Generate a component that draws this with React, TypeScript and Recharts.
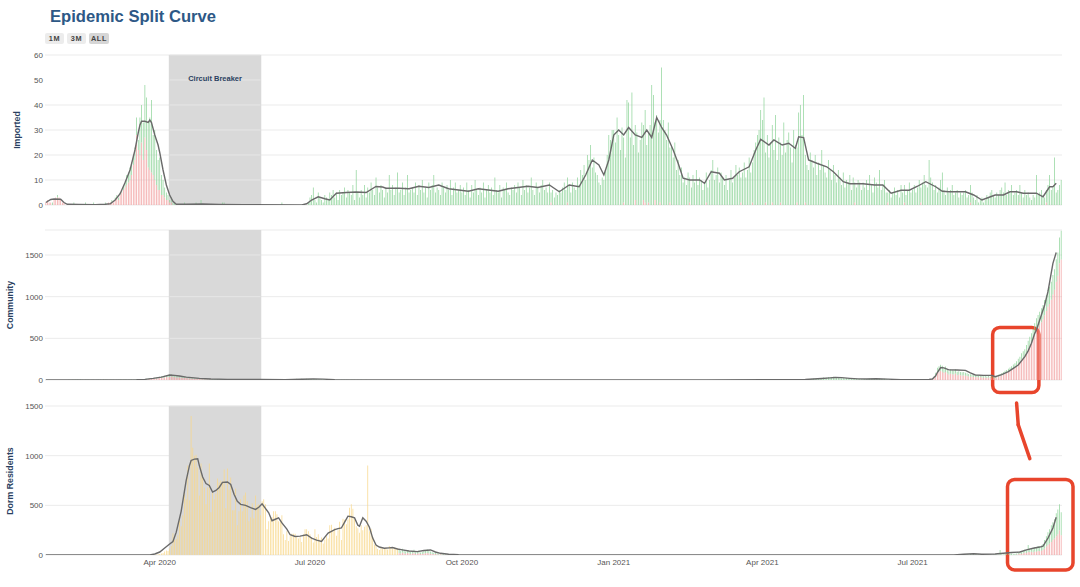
import React from 'react';
import { ComposedChart, Bar, Line, XAxis, YAxis, CartesianGrid, ReferenceArea, ReferenceLine } from 'recharts';

// ---------- time span & axes ----------
const FIRST_DAY = '2020-01-23';
const LAST_DAY = '2021-09-29';
const xTickDates = ['2020-04-01', '2020-07-01', '2020-10-01', '2021-01-01', '2021-04-01', '2021-07-01'];
const xTickLabels = ['Apr 2020', 'Jul 2020', 'Oct 2020', 'Jan 2021', 'Apr 2021', 'Jul 2021'];
const importedTicks = [0, 10, 20, 30, 40, 50, 60];
const communityTicks = [0, 500, 1000, 1500];
const dormTicks = [0, 500, 1000, 1500];
const circuitBreakerStart = '2020-04-07';
const circuitBreakerEnd = '2020-06-01';
const circuitBreakerText = 'Circuit Breaker';
const rangeButtons = ['1M', '3M', 'ALL'];
const titleText = 'Epidemic Split Curve';

// ---------- Imported ----------
// daily values from 2020-01-23
const importedRedEarly = [
  1, 2, 1, 1, 0, 2, 3, 3, 3, 2, 1, 1, 0,
  0, 0, 0, 0, 0, 0, 0, 0, 0, 0, 0, 0, 0, 0, 0, 0, 0, 0, 0, 0, 0, 0, 0,
  0, 0, 1, 1, 1, 1, 2, 3, 2, 4, 5, 6, 7, 8, 9, 10, 12, 16, 18, 28, 22, 20, 25, 18, 27,
  22, 15, 14, 13, 12, 10, 8, 6, 6, 4, 4, 3, 2, 2, 1, 1, 0, 0, 0, 0,
];
const importedGreenEarly = [
  0, 0, 0, 0, 1, 0, 0, 1, 0, 0, 0, 0, 0,
  0, 0, 0, 0, 1, 0, 0, 0, 0, 0, 0, 1, 0, 0, 0, 0, 1, 0, 0, 0, 0, 0, 0,
  1, 0, 0, 0, 1, 0, 1, 1, 1, 1, 1, 2, 2, 4, 4, 5, 5, 4, 5, 7, 4, 15, 15, 15, 21,
  21, 18, 21, 29, 16, 20, 14, 12, 13, 8, 6, 4, 3, 2, 1, 2, 1, 1, 0, 0,
];
// from 2020-04-13
const importedGreenAprJun20 = [
  0, 0, 0, 1, 0, 0, 0, 0, 0, 0, 1, 0, 0, 2, 0, 0, 0, 0, 0, 0, 0, 0, 0, 0, 0, 0, 1, 1, 0, 0,
  0, 0, 0, 0, 0, 0, 0, 0, 0, 0, 0, 0, 0, 0, 0, 0, 0, 0, 0, 0, 0, 0, 0, 0, 0, 0, 0, 0, 0, 0,
  0, 0, 1,
];
// from 2020-06-27
const importedGreenLateJun20 = [0, 0, 0, 1, 2];
// from 2020-07-01
const importedGreenQ3_2020 = [
  3, 4, 7, 2, 1, 5, 3, 2, 1, 4, 3, 2, 5, 4, 6, 3, 5, 2, 6, 4, 5, 7, 3, 6, 5, 4, 8, 2, 14, 5, 3,
  6, 4, 8, 3, 7, 5, 9, 6, 4, 11, 7, 5, 8, 6, 3, 7, 5, 12, 6, 8, 4, 7, 13, 5, 6, 9, 4, 7, 12, 5, 6,
  7, 5, 9, 4, 8, 6, 10, 5, 7, 3, 9, 6, 8, 12, 5, 7, 6, 4, 9, 7, 5, 8, 6, 10, 4, 7, 9, 5, 6, 8,
];
// from 2020-10-01
const importedGreenQ4_2020 = [
  5, 7, 4, 9, 6, 3, 8, 5, 10, 6, 4, 7, 5, 9, 3, 6, 8, 5, 7, 4, 11, 6, 5, 8, 3, 7, 6, 9, 5, 4, 7,
  6, 8, 5, 9, 7, 4, 10, 6, 8, 5, 7, 11, 6, 4, 9, 7, 5, 8, 10, 6, 7, 5, 9, 4, 6, 3, 5, 4, 6, 5,
  7, 9, 6, 10, 8, 5, 9, 7, 6, 11, 8, 14, 12, 16, 10, 20, 18, 24, 15, 19, 13, 12, 9, 8, 11, 10, 14, 20, 28, 26, 30,
];
// from 2021-01-01
const importedGreenQ1_2021 = [
  30, 25, 35, 28, 22, 31, 26, 19, 42, 41, 27, 45, 24, 30, 29, 21, 26, 33, 30, 37, 24, 28, 32, 48, 44, 31, 36, 29, 33, 55, 34,
  30, 26, 33, 22, 24, 19, 25, 14, 18, 12, 15, 9, 11, 8, 13, 10, 7, 12, 9, 14, 8, 11, 10, 6, 9, 12, 7, 10,
  14, 18, 10, 12, 15, 9, 13, 11, 8, 12, 6, 10, 14, 9, 11, 16, 12, 15, 10, 13, 17, 11, 14, 19, 13, 16, 22, 25, 28, 30, 38,
];
// from 2021-04-01
const importedGreenQ2_2021 = [
  34, 43, 20, 28, 19, 25, 31, 22, 36, 18, 27, 24, 20, 33, 21, 26, 29, 23, 17, 30, 24, 22, 37, 40, 28, 44, 19, 16, 14, 21,
  18, 15, 20, 12, 17, 14, 22, 16, 13, 11, 18, 14, 10, 16, 12, 9, 14, 11, 8, 13, 7, 10, 9, 12, 6, 11, 8, 7, 10, 9, 6,
  9, 7, 10, 6, 12, 8, 5, 11, 9, 7, 14, 6, 8, 10, 5, 4, 6, 3, 5, 7, 4, 6, 3, 8, 5, 7, 4, 6, 9, 5,
];
// from 2021-07-01
const importedGreenQ3_2021 = [
  6, 8, 5, 7, 10, 6, 9, 12, 8, 7, 18, 11, 9, 6, 8, 5, 7, 10, 13, 6, 4, 7, 5, 6, 8, 4, 5, 6, 3, 5, 4,
  5, 6, 3, 4, 7, 5, 3, 2, 4, 1, 2, 3, 1, 2, 4, 3, 5, 6, 4, 3, 5, 4, 6, 7, 5, 9, 4, 6, 5, 8, 4,
  5, 6, 4, 7, 5, 3, 6, 4, 5, 3, 2, 4, 3, 12, 4, 5, 6, 4, 3, 5, 8, 12, 6, 7, 19, 5, 6, 8, 10,
];
// scattered small values: [days after 2020-01-23, value]
const importedRedLate = [
  [306, 1], [316, 1], [350, 1], [357, 2], [362, 2], [363, 1], [365, 1], [369, 2], [372, 1], [378, 1], [390, 1],
  [400, 1], [421, 1], [428, 1], [436, 1], [440, 1], [445, 1], [455, 1], [460, 1], [490, 1], [510, 1], [520, 1],
  [530, 1], [560, 1], [590, 1], [606, 1],
];
// 7-day average: [days after 2020-01-23, value]
const importedAvg = [
  [0, 1], [3, 2.2], [5, 2.4], [9, 2.3], [11, 1], [13, 0.3], [20, 0.2], [30, 0.1], [36, 0.3], [39, 0.5], [42, 2], [45, 4.5],
  [48, 9], [51, 14], [54, 22], [56, 29], [57, 32], [58, 33.5], [60, 33.5], [62, 33], [63, 34], [64, 33], [66, 28], [68, 24],
  [69, 21], [71, 14], [73, 8], [75, 4], [77, 1.5], [79, 0.3], [85, 0.3], [95, 0.4], [105, 0.2], [120, 0.1], [155, 0],
  [158, 0.5], [161, 2], [165, 3.3], [169, 2.5], [172, 2], [176, 4.7], [182, 5], [188, 5.2], [194, 5], [200, 7.4], [204, 7.2],
  [206, 6.7], [214, 6.7], [220, 6.5], [226, 7.5], [232, 7], [238, 8], [244, 6.5], [250, 6], [256, 5.5], [262, 6.5], [268, 6],
  [274, 5.5], [280, 6.5], [286, 7], [292, 7.5], [298, 7], [305, 8], [311, 5.3], [317, 8], [323, 7.3], [327, 12], [331, 18],
  [335, 16], [338, 12], [341, 18], [344, 28], [347, 30], [350, 28], [353, 31], [357, 28], [361, 27], [364, 30], [367, 27],
  [370, 35], [373, 31], [376, 28], [380, 22], [383, 16.7], [386, 10.7], [390, 10], [396, 10], [399, 8.7], [403, 13.3],
  [408, 12.7], [411, 10], [416, 10.7], [420, 13.3], [426, 15.3], [430, 22], [433, 26.3], [438, 24], [441, 26], [446, 24],
  [450, 24.7], [454, 22.7], [456, 27.3], [459, 27], [462, 18], [467, 16.7], [473, 15.3], [477, 13.3], [483, 9.3], [487, 8.5],
  [495, 8.5], [502, 8], [507, 8], [512, 4.7], [518, 5.9], [523, 5.9], [528, 7.5], [533, 9.3], [539, 7.3], [543, 5.5],
  [547, 5.3], [552, 5.3], [557, 5.3], [562, 4], [567, 2], [571, 3], [575, 4], [580, 4], [584, 5.3], [588, 5.3], [592, 4.7],
  [596, 4.7], [600, 4.7], [604, 3.3], [608, 7.3], [610, 7.3], [612, 8.7],
];

// ---------- Community ----------
// from 2020-02-04
const communityGreenFeb20 = [1, 0, 2, 1, 3, 4, 2, 6, 3, 5, 2, 1, 3, 2, 4, 1, 2, 3, 1, 4, 2, 3, 1, 5, 2, 3, 1, 2];
// from 2020-03-03
const communityGreenMar20 = [2, 3, 1, 4, 2, 5, 3, 2, 6, 4, 3, 5, 7, 4, 6, 8, 5, 9, 7, 10, 12];
// from 2020-03-24
const communityRedMarMay20 = [
  8, 10, 12, 11, 15, 17, 18, 21, 24, 27, 23, 31, 35, 33, 37, 41, 36, 33, 30, 31,
  29, 27, 24, 23, 25, 21, 18, 17, 15, 13, 14, 12, 11, 10, 9, 8, 7, 8, 7, 6,
];
// from 2020-03-24
const communityGreenMarAug20 = [
  6, 6, 8, 7, 10, 11, 12, 14, 16, 18, 15, 21, 23, 22, 25, 27, 24, 22, 20, 21,
  19, 18, 16, 15, 17, 14, 12, 11, 10, 9, 10, 8, 7, 6, 6, 6, 5, 5, 4, 4,
  9, 10, 8, 11, 7, 9, 8, 10, 6, 8, 7, 9, 5, 8, 6, 7, 9, 5, 6, 8, 4, 7, 6, 5, 8, 4, 6, 5, 7, 6,
  5, 4, 6, 3, 7, 5, 4, 6, 3, 5, 7, 4, 6, 8, 5, 9, 7, 10, 12, 8, 11, 14, 10, 13, 15, 12, 9, 14, 11, 13,
  10, 8, 12, 9, 7, 10, 6, 8, 5, 7, 4, 6, 3, 5, 4, 3, 5, 2, 4, 3,
  3, 2, 4, 1, 3, 2, 2, 1, 3, 1, 2, 1, 1, 2, 0, 1, 1, 0, 1, 1,
];
// from 2021-04-08
const communityGreen2021 = [
  2, 1, 3, 2, 4, 1, 2, 3, 5, 2, 4, 3, 2, 5, 6, 4, 3, 7, 5, 8,
  10, 12, 9, 15, 18, 14, 20, 24, 17, 25, 30, 22, 28, 35, 26, 32, 38, 27, 30, 24,
  28, 22, 25, 19, 24, 18, 15, 20, 14, 12, 16, 11, 13, 10, 9, 12, 8, 11, 14, 16,
  18, 15, 20, 13, 17, 12, 10, 14, 8, 9, 6, 7, 5, 8, 4, 6, 5, 3, 5,
  6, 8, 4, 5, 7, 3, 5, 6, 4, 8, 3, 4, 6, 5, 9, 12, 10,
  7, 16, 33, 58, 65, 72, 70, 55, 67, 52, 43, 50, 48, 46, 52, 40, 42, 40, 38,
  39, 36, 33, 29, 28, 26, 24, 22, 25, 20, 23, 21, 18, 19, 17, 20, 15, 18, 16, 14,
  18, 22, 24, 29, 31, 34, 36, 39, 42, 45, 49, 50, 55, 61, 66, 74, 77, 80, 90, 98,
  108, 114, 122, 134, 144, 152, 160, 166, 172, 182, 192, 202, 208, 218, 234, 248, 270, 280, 310, 345,
];
// from 2021-07-13
const communityRed2021 = [
  12, 26, 55, 90, 100, 110, 100, 85, 95, 78, 62, 75, 70, 66, 78, 58, 62, 56, 54,
  56, 52, 47, 43, 40, 38, 36, 33, 37, 30, 35, 31, 27, 29, 25, 30, 23, 26, 24, 22,
  30, 40, 46, 56, 64, 76, 84, 96, 108, 120, 136, 150, 170, 194, 214, 246, 268, 290, 330, 372,
  412, 446, 488, 546, 596, 628, 660, 694, 728, 778, 828, 878, 912, 962, 1026, 1082, 1180, 1250, 1400, 1445,
];
const communityAvg = [
  [0, 0], [30, 1], [45, 2], [55, 4], [60, 8], [65, 20], [70, 35], [75, 60], [78, 55], [81, 48], [85, 35], [90, 25], [93, 20],
  [100, 12], [110, 8], [130, 7], [145, 5], [155, 9], [162, 12], [168, 10], [175, 5], [190, 2], [220, 1], [300, 0], [400, 1],
  [440, 3], [460, 6], [465, 12], [470, 18], [475, 25], [478, 30], [482, 28], [487, 20], [492, 14], [497, 12], [503, 15],
  [510, 10], [518, 5], [525, 5], [535, 7], [537, 12], [539, 50], [540, 90], [542, 150], [544, 145], [547, 122], [552, 120],
  [557, 115], [560, 85], [563, 60], [568, 55], [573, 55], [575, 40], [579, 65], [583, 100], [586, 140], [589, 180], [593, 280],
  [595, 350], [597, 440], [599, 560], [600, 600], [603, 780], [605, 900], [607, 1060], [610, 1400], [612, 1530],
];

// ---------- Dorm residents ----------
// from 2020-03-29
const dormYellow2020 = [
  2, 4, 8, 10, 15, 20, 35, 45, 40, 65,
  90, 220, 150, 160, 200, 350, 290, 400, 650, 560,
  900, 550, 1400, 1080, 1000, 1010, 880, 600, 920, 780,
  680, 510, 680, 920, 430, 640, 560, 620, 770, 730,
  750, 740, 860, 470, 870, 660, 780, 450, 450, 670,
  300, 440, 560, 440, 600, 630, 540, 340, 380, 520,
  370, 600, 500, 510, 400, 540, 560, 510, 260, 340,
  380, 380, 440, 440, 410, 340, 340, 400, 210, 150,
  240, 140, 195, 215, 215, 215, 190, 165, 190, 130,
  210, 260, 260, 240, 210, 180, 125, 260, 180, 210,
  155, 175, 115, 155, 190, 165, 300, 305, 240, 275,
  195, 250, 335, 150, 365, 355, 310, 360, 475, 510,
  465, 355, 290, 270, 225, 300, 250, 285, 300, 900,
  240, 265, 185, 105, 90, 60, 50, 80, 65, 70,
  75, 55, 90, 80, 65, 75, 60, 70,
];
// from 2020-08-24
const dormRed2020 = [20, 15, 25, 18, 12, 20, 16, 10, 14, 20, 10, 12, 18, 9, 11, 15, 18, 20, 16, 13, 10, 8, 11, 6, 5, 7, 4, 3, 3, 2, 2, 1];
const dormGreen2020 = [35, 25, 37, 30, 23, 30, 28, 20, 24, 32, 18, 21, 27, 16, 19, 25, 30, 35, 26, 22, 18, 14, 19, 12, 10, 13, 8, 7, 5, 4, 3, 3];
// from 2021-08-01
const dormGreenAug21 = [3, 5, 8, 4, 10, 6, 12, 5, 8, 4, 6, 2, 4, 3, 5, 2, 6, 3, 4, 8, 5, 3, 50, 6, 4, 9, 12, 7, 10, 15, 8, 12];
// from 2021-09-02
const dormRedSep21 = [5, 8, 15, 10, 18, 25, 20, 30, 28, 32, 25, 35, 33, 40, 38, 42, 50, 65, 85, 100, 115, 130, 150, 165, 190, 210, 250, 200];
const dormGreenSep21 = [10, 12, 20, 18, 22, 30, 28, 70, 34, 38, 33, 45, 42, 50, 47, 53, 60, 85, 105, 130, 145, 170, 180, 195, 230, 249, 260, 230];
const dormAvg = [
  [0, 0], [63, 0], [66, 10], [69, 30], [72, 70], [75, 110], [77, 136], [79, 230], [82, 442], [85, 748], [87, 900], [88, 952],
  [90, 965], [92, 969], [93, 900], [95, 785], [97, 720], [99, 700], [101, 633], [103, 650], [105, 680], [107, 731], [110, 735],
  [112, 710], [114, 612], [116, 540], [118, 510], [121, 500], [124, 476], [127, 459], [129, 480], [131, 515], [133, 470],
  [135, 425], [137, 345], [139, 360], [141, 374], [143, 323], [146, 260], [148, 204], [151, 187], [154, 190], [158, 204],
  [161, 170], [164, 150], [167, 136], [169, 180], [171, 221], [175, 255], [177, 265], [179, 272], [181, 330], [183, 391],
  [185, 385], [187, 374], [189, 300], [190, 289], [192, 374], [194, 340], [196, 280], [198, 170], [200, 100], [202, 80],
  [205, 68], [208, 72], [210, 75], [213, 60], [216, 51], [220, 40], [225, 34], [229, 45], [233, 51], [236, 30], [239, 17],
  [244, 7], [250, 2], [260, 0], [550, 0], [556, 8], [562, 12], [567, 8], [575, 10], [580, 18], [585, 25], [590, 30],
  [594, 51], [598, 68], [602, 80], [604, 90], [607, 170], [610, 272], [612, 380],
];

// ---------- annotations ----------
const communityHighlight = { x1: '2021-08-19', x2: '2021-09-15', y1: -150, y2: 630 };
const dormHighlight = { x1: '2021-08-28', x2: LAST_DAY, y1: -150, y2: 760 };
const connectorTop = [{ x: '2021-09-02', y: 1530 }, { x: '2021-09-03', y: 1310 }];
const connectorBottom = [{ x: '2021-09-03', y: 1310 }, { x: '2021-09-10', y: 970 }];

// ---------- build table ----------
function buildDates(start: string, end: string): string[] {
  const out: string[] = [];
  const d = new Date(start + 'T00:00:00Z');
  const e = new Date(end + 'T00:00:00Z');
  while (d <= e) {
    out.push(d.toISOString().slice(0, 10));
    d.setUTCDate(d.getUTCDate() + 1);
  }
  return out;
}
const dates = buildDates(FIRST_DAY, LAST_DAY);
const dayIndex = new Map(dates.map((d, i) => [d, i]));
const rows: any[] = dates.map((date) => ({
  date, impR: 0, impG: 0, impAvg: null, comR: 0, comG: 0, comAvg: null, dormY: 0, dormR: 0, dormG: 0, dormAvg: null,
}));
function placeRun(key: string, start: string, values: number[]) {
  const i0 = dayIndex.get(start) as number;
  values.forEach((v, k) => { if (rows[i0 + k]) rows[i0 + k][key] = v; });
}
function placePoints(key: string, pts: number[][]) {
  pts.forEach(([i, v]) => { if (rows[i]) rows[i][key] = v; });
}
placeRun('impR', FIRST_DAY, importedRedEarly);
placeRun('impG', FIRST_DAY, importedGreenEarly);
placeRun('impG', '2020-04-13', importedGreenAprJun20);
placeRun('impG', '2020-06-27', importedGreenLateJun20);
placeRun('impG', '2020-07-01', importedGreenQ3_2020);
placeRun('impG', '2020-10-01', importedGreenQ4_2020);
placeRun('impG', '2021-01-01', importedGreenQ1_2021);
placeRun('impG', '2021-04-01', importedGreenQ2_2021);
placeRun('impG', '2021-07-01', importedGreenQ3_2021);
placePoints('impR', importedRedLate);
placePoints('impAvg', importedAvg);

placeRun('comG', '2020-02-04', communityGreenFeb20);
placeRun('comG', '2020-03-03', communityGreenMar20);
placeRun('comR', '2020-03-24', communityRedMarMay20);
placeRun('comG', '2020-03-24', communityGreenMarAug20);
placeRun('comG', '2021-04-08', communityGreen2021);
placeRun('comR', '2021-07-13', communityRed2021);
placePoints('comAvg', communityAvg);

placeRun('dormY', '2020-03-29', dormYellow2020);
placeRun('dormR', '2020-08-24', dormRed2020);
placeRun('dormG', '2020-08-24', dormGreen2020);
placeRun('dormG', '2021-08-01', dormGreenAug21);
placeRun('dormR', '2021-09-02', dormRedSep21);
placeRun('dormG', '2021-09-02', dormGreenSep21);
placePoints('dormAvg', dormAvg);

// ---------- styling ----------
const FONT = '"Liberation Sans", Arial, Helvetica, sans-serif';
const GREEN = '#8fd49a';
const RED = '#f2a3a3';
const YELLOW = '#f8d88b';
const LINE = '#6a6a6a';
const SHADE = '#d9d9d9';
const GRID = '#ebebeb';
const GRID_ON_SHADE = '#e6e6e6';
const HIGHLIGHT = '#e8452c';
const AXIS_TITLE = '#2a3f5f';
const tickStyle = { fontSize: 8, fill: '#555', fontFamily: FONT };
const CHART_W = 1080;
const MARGIN_R = 18;
const Y_W = 45;

const tickFmt = (v: string) => {
  const i = xTickDates.indexOf(v);
  return i >= 0 ? xTickLabels[i] : '';
};

const boxShape = (extraRight: number) => (p: any) => (
  <rect x={p.x} y={p.y} width={p.width + extraRight} height={p.height} rx={7} ry={7}
    fill="none" stroke={HIGHLIGHT} strokeWidth={3.5} />
);

function AxisTitle({ text, x, y }: { text: string; x: number; y: number }) {
  return (
    <div style={{
      position: 'absolute', left: x, top: y, transform: 'translate(-50%, -50%) rotate(-90deg)',
      whiteSpace: 'nowrap', fontFamily: FONT, fontWeight: 700, fontSize: 8.8, color: AXIS_TITLE,
    }}>{text}</div>
  );
}

export default function App() {
  const common = {
    width: CHART_W,
    data: rows,
    barCategoryGap: '28%',
    barGap: 0,
  } as any;
  const xAxis = (hide: boolean) => (
    <XAxis dataKey="date" ticks={xTickDates} interval={0} tickFormatter={tickFmt} hide={hide}
      tickLine={false} axisLine={false} tickSize={0} tickMargin={4} tick={tickStyle} height={30} />
  );
  const yAxis = (domain: number[], ticks: number[]) => (
    <YAxis width={Y_W} domain={domain} ticks={ticks} tickLine={false} axisLine={false} tickSize={0}
      tickMargin={2} tick={tickStyle} allowDataOverflow />
  );
  const shade = (withLabel: boolean) => (
    <ReferenceArea x1={circuitBreakerStart} x2={circuitBreakerEnd} fill={SHADE} fillOpacity={1} stroke="none"
      label={withLabel ? { value: circuitBreakerText, position: 'insideTop', offset: 21, fill: AXIS_TITLE, fontSize: 7.5, fontWeight: 700, fontFamily: FONT } : undefined} />
  );
  // grid lines continue across the shaded period
  const shadeGrid = (ticks: number[]) => ticks.filter((t) => t > 0).map((t) => (
    <ReferenceLine key={'g' + t} segment={[{ x: circuitBreakerStart, y: t }, { x: circuitBreakerEnd, y: t }]}
      stroke={GRID_ON_SHADE} strokeWidth={1} />
  ));
  return (
    <div style={{ position: 'absolute', left: 0, top: 0, width: 1080, height: 587, background: '#fff', fontFamily: FONT }}>
      <div style={{ position: 'absolute', left: 50, top: 7, fontSize: 16.6, fontWeight: 700, color: '#2d5886', lineHeight: '19px' }}>
        {titleText}
      </div>
      {rangeButtons.map((b, i) => (
        <div key={b} style={{
          position: 'absolute', left: 45 + i * 22, top: 33, width: 19 + (i === 2 ? 1 : 0), height: 11,
          background: i === 2 ? '#d6d6d6' : '#ececec', borderRadius: 2, fontSize: 7.3, fontWeight: 700,
          color: '#444', textAlign: 'center', lineHeight: '11px', letterSpacing: 0.6,
        }}>{b}</div>
      ))}
      <AxisTitle text="Imported" x={17} y={130} />
      <AxisTitle text="Community" x={10} y={305} />
      <AxisTitle text="Dorm Residents" x={10} y={481} />

      {/* Imported */}
      <div style={{ position: 'absolute', left: 0, top: 50 }}>
        <ComposedChart {...common} height={160} margin={{ top: 5, right: MARGIN_R, bottom: 5, left: 0 }}>
          {shade(true)}
          <CartesianGrid vertical={false} stroke={GRID} />
          {xAxis(true)}
          {yAxis([0, 60], importedTicks)}
          {shadeGrid(importedTicks)}
          <Bar dataKey="impR" stackId="s" fill={RED} isAnimationActive={false} />
          <Bar dataKey="impG" stackId="s" fill={GREEN} isAnimationActive={false} />
          <Line dataKey="impAvg" type="linear" stroke={LINE} strokeWidth={1.4} dot={false} activeDot={false} connectNulls isAnimationActive={false} />
        </ComposedChart>
      </div>

      {/* Community */}
      <div style={{ position: 'absolute', left: 0, top: 225 }}>
        <ComposedChart {...common} height={175} margin={{ top: 5, right: MARGIN_R, bottom: 20, left: 0 }}>
          {shade(false)}
          <CartesianGrid vertical={false} stroke={GRID} />
          {xAxis(true)}
          {yAxis([0, 1800], communityTicks)}
          {shadeGrid(communityTicks)}
          <Bar dataKey="comR" stackId="s" fill={RED} isAnimationActive={false} />
          <Bar dataKey="comG" stackId="s" fill={GREEN} isAnimationActive={false} />
          <Line dataKey="comAvg" type="linear" stroke={LINE} strokeWidth={1.4} dot={false} activeDot={false} connectNulls isAnimationActive={false} />
          <ReferenceArea x1={communityHighlight.x1} x2={communityHighlight.x2} y1={communityHighlight.y1} y2={communityHighlight.y2}
            ifOverflow="visible" shape={boxShape(0)} />
        </ComposedChart>
      </div>

      {/* Dorm residents */}
      <div style={{ position: 'absolute', left: 0, top: 401 }}>
        <ComposedChart {...common} height={186} margin={{ top: 5, right: MARGIN_R, bottom: 2, left: 0 }}>
          {shade(false)}
          <CartesianGrid vertical={false} stroke={GRID} />
          {xAxis(false)}
          {yAxis([0, 1500], dormTicks)}
          {shadeGrid(dormTicks.filter((t) => t === 1500))}
          <Bar dataKey="dormY" stackId="s" fill={YELLOW} isAnimationActive={false} />
          <Bar dataKey="dormR" stackId="s" fill={RED} isAnimationActive={false} />
          <Bar dataKey="dormG" stackId="s" fill={GREEN} isAnimationActive={false} />
          <Line dataKey="dormAvg" type="linear" stroke={LINE} strokeWidth={1.4} dot={false} activeDot={false} connectNulls isAnimationActive={false} />
          <ReferenceArea x1={dormHighlight.x1} x2={dormHighlight.x2} y1={dormHighlight.y1} y2={dormHighlight.y2}
            ifOverflow="visible" shape={boxShape(11)} />
          <ReferenceLine segment={connectorTop} ifOverflow="visible" stroke={HIGHLIGHT} strokeWidth={3.5} strokeLinecap="round" />
          <ReferenceLine segment={connectorBottom} ifOverflow="visible" stroke={HIGHLIGHT} strokeWidth={3.5} strokeLinecap="round" />
        </ComposedChart>
      </div>
    </div>
  );
}
